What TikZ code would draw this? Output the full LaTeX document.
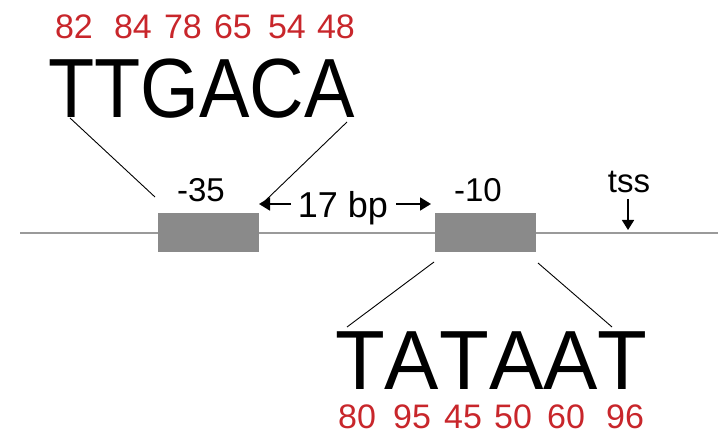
\documentclass[tikz,border=0pt]{standalone}
\usepackage{fontspec}
\setmainfont{Liberation Sans}
\newfontfamily\motiffont[Kerning=Off]{Liberation Sans}
\usetikzlibrary{arrows.meta}
\definecolor{numred}{HTML}{C8262B}
\definecolor{boxgray}{HTML}{8A8A8A}
\definecolor{dnagray}{HTML}{9A9A9A}
\tikzset{
  motif/.style={inner sep=0pt, anchor=base west, text depth=0pt, font=\motiffont\fontsize{84}{84}\selectfont},
  score/.style={inner sep=0pt, anchor=base, text=numred, font=\fontsize{34}{34}\selectfont},
  label/.style={inner sep=0pt, anchor=base, font=\fontsize{33}{33}\selectfont},
  element/.style={fill=boxgray, draw=none, minimum width=101pt, minimum height=39pt, inner sep=0pt},
  guide/.style={draw=black, line width=0.9pt},
  spacer/.style={draw=black, line width=1.8pt, -{Triangle[length=11pt,width=13pt]}},
}
\begin{document}
\begin{tikzpicture}[x=1pt,y=-1pt]
\useasboundingbox (0,0) rectangle (722,435);

% DNA strand
\coordinate (dnaL) at (20,233);
\coordinate (dnaR) at (718,233);
\draw[dnagray, line width=2pt] (dnaL) -- (dnaR);

% promoter elements
\node[element] (box35) at (208,232.5) {};
\node[element] (box10) at (485.5,232.5) {};
\node[label] (lab35) at (201,202) {-35};
\node[label] (lab10) at (478,202) {-10};

% spacer between the elements
\node[label, font=\fontsize{36}{36}\selectfont] (spacer) at (343,218) {17 bp};
\coordinate (spL) at (291,204);
\coordinate (spLtip) at (259,204);
\coordinate (spR) at (396,204);
\coordinate (spRtip) at (431,204);
\draw[spacer] (spL) -- (spLtip);
\draw[spacer] (spR) -- (spRtip);

% transcription start site
\node[label] (tss) at (629,193) {tss};
\coordinate (tssA) at (628,199);
\coordinate (tssB) at (628,230);
\draw[spacer, line width=1.6pt, -{Triangle[length=10pt,width=12pt]}] (tssA) -- (tssB);

% -35 consensus
\node[motif] (ttgaca) at (48,118) {\scalebox{0.9}[1]{TTGACA}};
\node[score] at (74,39) {82};
\node[score] at (133,39) {84};
\node[score] at (183,39) {78};
\node[score] at (233,39) {65};
\node[score] at (287,39) {54};
\node[score] at (336,39) {48};
\coordinate (t1) at (70,118);
\coordinate (b35L) at (155,197);
\coordinate (a6) at (347,122);
\coordinate (b35R) at (265,201);
\draw[guide] (t1) -- (b35L);
\draw[guide] (a6) -- (b35R);

% -10 consensus
\node[motif] (tataat) at (335,389) {\scalebox{0.97}[1]{TATAAT}};
\node[score] at (357,428) {80};
\node[score] at (412,428) {95};
\node[score] at (463,428) {45};
\node[score] at (513,428) {50};
\node[score] at (566,428) {60};
\node[score] at (625,428) {96};
\coordinate (b10L) at (434,262);
\coordinate (t1b) at (347,327);
\coordinate (b10R) at (538,263);
\coordinate (t6b) at (612,327);
\draw[guide] (b10L) -- (t1b);
\draw[guide] (b10R) -- (t6b);
\end{tikzpicture}
\end{document}
